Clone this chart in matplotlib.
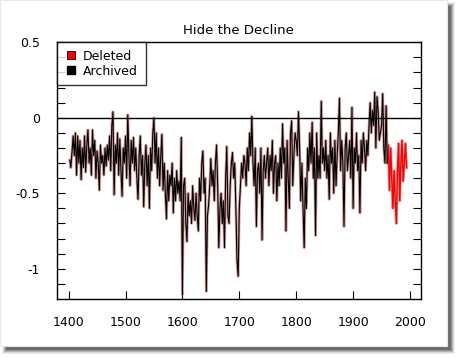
import matplotlib
matplotlib.use("Agg")
import matplotlib.pyplot as plt
from matplotlib.patches import Rectangle
import numpy as np

# tree-ring series, every 2 years (1402..1994)
years = np.arange(1402, 1995, 2)
values = [
    -0.28, -0.33, -0.22, -0.12,                 # 1400s
    -0.25, -0.10, -0.38, -0.12, -0.30,          # 1410s
    -0.15, -0.41, -0.20, -0.33, -0.12,          # 1420s
    -0.36, -0.18, -0.08, -0.30, -0.20,          # 1430s
    -0.38, -0.08, -0.25, -0.15, -0.40,          # 1440s
    -0.22, -0.30, -0.48, -0.18, -0.30,          # 1450s
    -0.25, -0.38, -0.20, -0.32, -0.18,          # 1460s
    -0.28, -0.12, -0.35, -0.05, 0.04,           # 1470s
    -0.51, -0.18, -0.30, -0.10, -0.38,          # 1480s
    -0.14, -0.35, -0.52, -0.20, -0.30,          # 1490s
    -0.12, -0.40, 0.02, -0.25, -0.45,           # 1500s
    -0.15, -0.30, -0.13, -0.35, -0.20,          # 1510s
    -0.40, -0.54, -0.25, -0.12, -0.38,          # 1520s
    -0.25, -0.59, -0.30, -0.18, -0.45,          # 1530s
    -0.25, -0.60, -0.20, -0.35, -0.10,          # 1540s
    0.00, -0.30, -0.10, -0.40, -0.20,           # 1550s
    -0.45, -0.25, -0.11, -0.48, -0.30,          # 1560s
    -0.50, -0.67, -0.35, -0.55, -0.38,          # 1570s
    -0.45, -0.30, -0.63, -0.40, -0.55,          # 1580s
    -0.35, -0.50, -0.42, -0.55, -0.13,          # 1590s
    -1.17, -0.45, -0.40, -0.70, -0.82,          # 1600s
    -0.50, -0.65, -0.55, -0.70, -0.45,          # 1610s
    -0.60, -0.68, -0.50, -0.65, -0.75,          # 1620s
    -0.40, -0.55, -0.30, -0.22, -0.50,          # 1630s
    -0.40, -1.15, -0.65, -0.58, -0.45,          # 1640s
    -0.27, -0.45, -0.35, -0.55, -0.30,          # 1650s
    -0.18, -0.45, -0.86, -0.60, -0.50,          # 1660s
    -0.70, -0.55, -0.86, -0.40, -0.19,          # 1670s
    -0.65, -0.70, -0.45, -0.30, -0.23,          # 1680s
    -0.40, -0.30, -0.60, -0.95, -1.05,          # 1690s
    -0.60, -0.45, -0.30, -0.40, -0.25,          # 1700s
    -0.30, -0.45, -0.20, -0.35, -0.10,          # 1710s
    -0.25, 0.01, -0.30, -0.45, -0.20,           # 1720s
    -0.72, -0.35, -0.30, -0.50, -0.20,          # 1730s
    -0.81, -0.35, -0.25, -0.40, -0.30,          # 1740s
    -0.20, -0.45, -0.25, -0.35, -0.15,          # 1750s
    -0.50, -0.30, -0.25, -0.55, -0.30,          # 1760s
    -0.45, -0.20, -0.40, -0.04, -0.30,          # 1770s
    -0.20, -0.75, -0.15, -0.40, -0.60,          # 1780s
    -0.10, -0.02, -0.45, -0.25, -0.10,          # 1790s
    -0.15, -0.25, 0.04, -0.20, -0.55,           # 1800s
    -0.30, -0.60, -0.86, -0.40, -0.60,          # 1810s
    -0.20, -0.35, -0.10, -0.30, -0.03,          # 1820s
    -0.40, -0.20, -0.78, -0.10, -0.40,          # 1830s
    -0.25, -0.40, 0.11, -0.30, -0.20,           # 1840s
    -0.35, -0.15, -0.40, -0.25, -0.54,          # 1850s
    -0.10, -0.30, -0.20, -0.50, -0.15,          # 1860s
    -0.45, -0.25, -0.10, 0.13, -0.35,           # 1870s
    -0.15, -0.30, -0.72, -0.20, -0.10,          # 1880s
    -0.35, -0.25, -0.15, -0.40, 0.07,           # 1890s
    -0.60, -0.20, -0.30, -0.10, -0.35,          # 1900s
    -0.25, -0.63, -0.15, -0.30, -0.10,          # 1910s
    -0.20, -0.35, -0.15, -0.25, -0.05,          # 1920s
    0.10, -0.10, 0.05, -0.05, 0.17,             # 1930s
    -0.20, 0.14, 0.05, -0.15, -0.10,            # 1940s
    -0.05, 0.16, -0.20, -0.30, 0.08,            # 1950s
    -0.30, -0.18, -0.48, -0.20, -0.40,          # 1960s
    -0.60, -0.35, -0.55, -0.70, -0.35,          # 1970s
    -0.17, -0.55, -0.30, -0.15, -0.42,          # 1980s
    -0.30, -0.17, -0.33,                        # 1990s
]
cutoff = 1960
y_ticks = [0.5, 0, -0.5, -1]
y_labels = ["0.5", "0", "-0.5", "-1"]
x_ticks = [1400, 1500, 1600, 1700, 1800, 1900, 2000]

values = np.array(values)
archived = years <= cutoff
deleted = years >= cutoff

fig = plt.figure(figsize=(4.58, 3.58), dpi=100)
W, H = 458, 358

# card with a soft drop shadow (pixel units, measured from top-left)
def px_rect(x0, y0, x1, y1, **kw):
    return Rectangle((x0 / W, 1 - y1 / H), (x1 - x0) / W, (y1 - y0) / H,
                     transform=fig.transFigure, **kw)

for grow, a in [(4, 0.08), (3, 0.14), (2, 0.22), (1, 0.32), (0, 0.45)]:
    fig.patches.append(px_rect(6 - grow, 6 - grow, 451 + grow, 350 + grow,
                               color="#444444", alpha=a, lw=0, zorder=0))
fig.patches.append(px_rect(0, 0, 447, 346, facecolor="white", edgecolor="#e8e8e8",
                           lw=0.8, zorder=1))

ax = fig.add_axes([57 / W, 1 - 299 / H, 363.7 / W, 256.7 / H])
ax.set_facecolor("white")
ax.set_zorder(2)

ax.plot(years, values, color="#b05050", lw=2.0, alpha=0.55, zorder=2)
ax.plot(years[deleted], values[deleted], color="#ff0000", lw=1.0, zorder=3)
ax.plot(years[archived], values[archived], color="black", lw=0.8, zorder=4)
ax.axhline(0, color="black", lw=1.0, zorder=5)

ax.set_xlim(1379.6, 2018.8)
ax.set_ylim(-1.2, 0.5)
ax.set_xticks(x_ticks)
ax.set_xticklabels([str(x) for x in x_ticks])
ax.set_yticks(y_ticks)
ax.set_yticklabels(y_labels)
ax.set_yticks(np.arange(-1.1, 0.45, 0.1), minor=True)
ax.tick_params(axis="both", which="both", direction="in", length=6, width=0.8,
               labelsize=9, right=True, top=False)
ax.tick_params(axis="x", pad=12)
ax.tick_params(axis="y", pad=12.5)
for s in ax.spines.values():
    s.set_linewidth(1.0)

ax.set_title("Hide the Decline", fontsize=9.5, pad=6)

ax.plot([], [], "s", color="#ff0000", mec="black", mew=0.6, ms=6, label="Deleted")
ax.plot([], [], "s", color="black", ms=6, label="Archived")
leg = ax.legend(loc="upper left", bbox_to_anchor=(0, 1), borderaxespad=0, fontsize=9,
                frameon=True, fancybox=False, edgecolor="black", handletextpad=0.5,
                labelspacing=0.15, borderpad=0.6, handlelength=1.0)
leg.get_frame().set_linewidth(1.0)
leg.set_zorder(6)

fig.savefig("out.png", dpi=100)
